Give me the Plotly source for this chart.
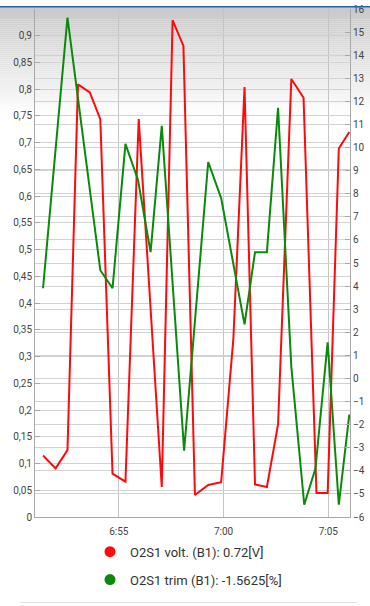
import plotly.graph_objects as go

DAY = "2024-01-01 "

# O2S1 voltage (B1), left axis [V]
volt_times = ["06:51:23", "06:51:59", "06:52:33", "06:53:03", "06:53:37", "06:54:07",
              "06:54:42", "06:55:19", "06:55:57", "06:57:03", "06:57:34", "06:58:05",
              "06:58:38", "06:59:16", "06:59:53", "07:00:28", "07:01:00", "07:01:30",
              "07:02:04", "07:02:36", "07:03:14", "07:03:49", "07:04:26", "07:04:58",
              "07:05:30", "07:06:00"]
volt_values = [0.115, 0.091, 0.125, 0.809, 0.794, 0.744,
               0.081, 0.066, 0.744, 0.056, 0.929, 0.881,
               0.041, 0.060, 0.065, 0.333, 0.804, 0.061,
               0.056, 0.173, 0.819, 0.784, 0.045, 0.045,
               0.689, 0.72]

# O2S1 fuel trim (B1), right axis [%]
trim_times = ["06:51:23", "06:52:33", "06:54:07", "06:54:42", "06:55:19", "06:55:55",
              "06:56:31", "06:57:03", "06:58:07", "06:59:16", "06:59:53", "07:01:00",
              "07:01:30", "07:02:04", "07:02:36", "07:03:14", "07:03:51", "07:04:23",
              "07:04:58", "07:05:30", "07:06:00"]
trim_values = [3.906, 15.625, 4.6875, 3.906, 10.156, 8.594,
               5.469, 10.9375, -3.125, 9.375, 7.8125, 2.344,
               5.469, 5.469, 11.72, 0.5, -5.469, -3.906,
               1.5625, -5.469, -1.5625]

legend_labels = ["O2S1 volt. (B1): 0.72[V]", "O2S1 trim (B1): -1.5625[%]"]
left_ticks = [0, 0.05, 0.1, 0.15, 0.2, 0.25, 0.3, 0.35, 0.4, 0.45,
              0.5, 0.55, 0.6, 0.65, 0.7, 0.75, 0.8, 0.85, 0.9]
x_ticks = ["06:55:00", "07:00:00", "07:05:00"]
x_range = ["06:51:00", "07:06:02"]

RED = "#ff0a0a"
GREEN = "#0a8a0a"

W, H = 370, 606
L, R, T, B = 35, 20, 3, 89
PW, PH = W - L - R, H - T - B


def px_x(p):
    return (p - L) / PW


def px_y(p):
    return (H - B - p) / PH


fig = go.Figure()
fig.add_trace(go.Scatter(x=[DAY + t for t in volt_times], y=volt_values, mode="lines",
                         line=dict(color=RED, width=2), showlegend=False, yaxis="y"))
fig.add_trace(go.Scatter(x=[DAY + t for t in trim_times], y=trim_values, mode="lines",
                         line=dict(color=GREEN, width=2), showlegend=False, yaxis="y2"))
# legend entries
for name, col, grp in [(legend_labels[0], RED, "a"), (legend_labels[1], GREEN, "b")]:
    fig.add_trace(go.Scatter(x=[None], y=[None], mode="markers", name=name,
                             legendgroup=grp,
                             marker=dict(color=col, size=11, symbol="circle")))

shapes = []
# top gray gradient
n = 55
for i in range(n):
    y0, y1 = i * 2, i * 2 + 2
    g = int(200 + (255 - 200) * (i / n))
    shapes.append(dict(type="rect", xref="paper", yref="paper", layer="below",
                       x0=px_x(0), x1=px_x(W), y0=px_y(y1), y1=px_y(y0),
                       fillcolor=f"rgb({g},{g},{g})", line=dict(width=0)))
# top blue strip
shapes.append(dict(type="rect", xref="paper", yref="paper", layer="above",
                   x0=px_x(0), x1=px_x(W), y0=px_y(1.5), y1=px_y(0),
                   fillcolor="#2a62a8", line=dict(width=0)))
# bottom box edge
shapes.append(dict(type="line", xref="paper", yref="paper", layer="below",
                   x0=px_x(20), x1=px_x(357), y0=px_y(603.5), y1=px_y(603.5),
                   line=dict(color="#e2e2e2", width=1)))

fig.update_layout(
    width=W, height=H,
    margin=dict(l=L, r=R, t=T, b=B),
    paper_bgcolor="white",
    plot_bgcolor="rgba(0,0,0,0)",
    separators=",.",
    font=dict(family="Roboto", size=10, color="#444444"),
    shapes=shapes,
    xaxis=dict(type="date", range=[DAY + x_range[0], DAY + x_range[1]],
               tickvals=[DAY + t for t in x_ticks], tickformat="%-H:%M",
               showgrid=True, gridcolor="#c4c4c4", gridwidth=1,
               showline=True, linecolor="#a8a8a8", linewidth=1,
               ticks="", ticklabelstandoff=5,
               zeroline=False, tickfont=dict(size=10, color="#444")),
    yaxis=dict(range=[0, 0.95], tickvals=left_ticks, tickformat=".2~f",
               showgrid=True, gridcolor="#d2d2d2", gridwidth=1,
               showline=True, linecolor="#a8a8a8", linewidth=1,
               ticks="inside", ticklen=5, tickcolor="#a8a8a8",
               zeroline=False, tickfont=dict(size=10, color="#444")),
    yaxis2=dict(range=[-6, 16], dtick=1, overlaying="y", side="right",
                showgrid=True, gridcolor="#d2d2d2", gridwidth=1,
                showline=True, linecolor="#a8a8a8", linewidth=1,
                ticks="inside", ticklen=5, tickcolor="#a8a8a8",
                ticklabeloverflow="allow",
                zeroline=False, tickfont=dict(size=10, color="#444")),
    legend=dict(orientation="v", x=px_x(90), xanchor="left", y=px_y(537), yanchor="top",
                font=dict(size=13, color="#333333"), tracegroupgap=8,
                traceorder="grouped", bgcolor="rgba(0,0,0,0)"),
)

fig.write_html("out.html",
               config={"displayModeBar": False},
               post_script="document.body.style.margin='0';document.body.style.overflow='hidden';")
